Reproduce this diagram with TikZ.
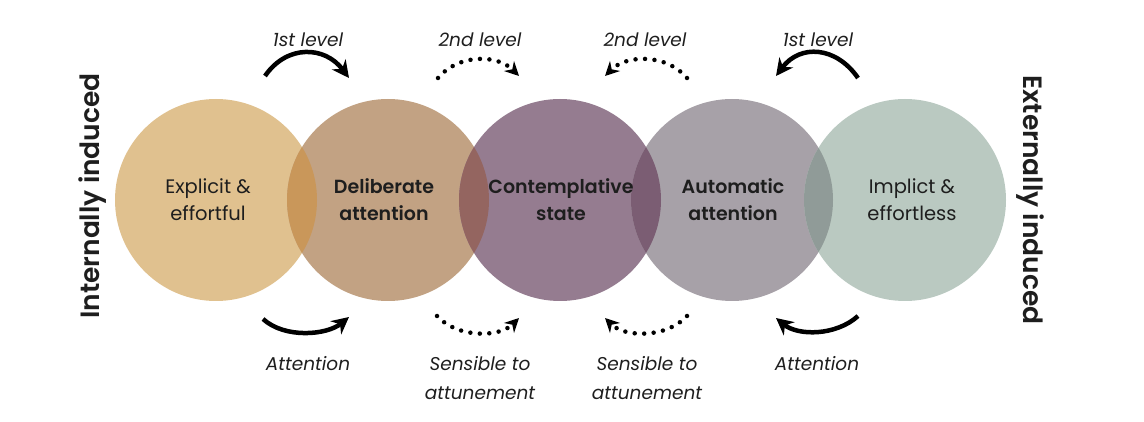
\documentclass[tikz,border=0pt]{standalone}
\usepackage{fontspec}
\setmainfont{Poppins}[BoldFont={Poppins SemiBold}]
\usetikzlibrary{arrows.meta}
\definecolor{ink}{HTML}{1E1E1E}
\definecolor{tanA}{HTML}{E0C18F}
\definecolor{tanB}{HTML}{C2A283}
\definecolor{plumC}{HTML}{957C90}
\definecolor{greyD}{HTML}{A7A1A8}
\definecolor{sageE}{HTML}{BAC9C1}
\definecolor{lensAB}{HTML}{C9975A}
\definecolor{lensBC}{HTML}{946560}
\definecolor{lensCD}{HTML}{7B5D73}
\definecolor{lensDE}{HTML}{909B98}
\begin{document}
\begin{tikzpicture}[x=1pt,y=-1pt,
  blob/.style={circle,minimum size=202pt,inner sep=0pt},
  ctext/.style={align=center,text=ink,font=\fontsize{19.5}{27}\selectfont},
  ctextb/.style={ctext,font=\bfseries\fontsize{19}{27}\selectfont},
  side/.style={text=ink,font=\bfseries\fontsize{26.5}{30}\selectfont},
  lvl/.style={align=center,text=ink,font=\itshape\fontsize{18.5}{29}\selectfont},
  solidarr/.style={line width=4.5pt,-{Stealth[length=17pt,width=17pt]}},
  dotarr/.style={line width=4.5pt,line cap=round,dash pattern=on 0pt off 9.5pt,-{Stealth[length=14pt,width=14pt]}}]
\useasboundingbox (0,0) rectangle (1144,422);
\node[blob,fill=tanA] (explicit) at (216,200) {};
\node[blob,fill=tanB] (deliberate) at (388,200) {};
\node[blob,fill=plumC] (contemp) at (560,200) {};
\node[blob,fill=greyD] (automatic) at (732,200) {};
\node[blob,fill=sageE] (implicit) at (905,200) {};
\begin{scope}
\clip (explicit.center) circle (101pt);
\fill[lensAB] (deliberate.center) circle (101pt);
\end{scope}
\begin{scope}
\clip (deliberate.center) circle (101pt);
\fill[lensBC] (contemp.center) circle (101pt);
\end{scope}
\begin{scope}
\clip (contemp.center) circle (101pt);
\fill[lensCD] (automatic.center) circle (101pt);
\end{scope}
\begin{scope}
\clip (automatic.center) circle (101pt);
\fill[lensDE] (implicit.center) circle (101pt);
\end{scope}
\node[ctext] (explicittxt) at (208,200) {Explicit \&\\effortful};
\node[ctextb] (deliberatetxt) at (384,200) {Deliberate\\attention};
\node[ctextb] (contemptxt) at (561,200) {Contemplative\\state};
\node[ctextb] (automatictxt) at (733,200) {Automatic\\attention};
\node[ctext] (implicittxt) at (912,200) {Implict \&\\effortless};
\node[side,rotate=90] (internal) at (93,196) {Internally induced};
\node[side,rotate=-90] (external) at (1030,200) {Externally induced};
\node[lvl] (lvlA) at (308,40) {1st level};
\node[lvl] (lvlB) at (480,40) {2nd level};
\node[lvl] (lvlC) at (645,40) {2nd level};
\node[lvl] (lvlD) at (818,40) {1st level};
\node[lvl] (attA) at (308,364) {Attention};
\node[lvl] (sensB) at (480,378) {Sensible to\\attunement};
\node[lvl] (sensC) at (647,378) {Sensible to\\attunement};
\node[lvl] (attD) at (817,364) {Attention};
\coordinate (t1a) at (265,76);
\coordinate (t1b) at (349,78);
\coordinate (t2a) at (438,78);
\coordinate (t2b) at (519,76);
\coordinate (t3a) at (687,78);
\coordinate (t3b) at (605,76);
\coordinate (t4a) at (858,78);
\coordinate (t4b) at (776,76);
\coordinate (b1a) at (263,319);
\coordinate (b1b) at (349,317);
\coordinate (b2a) at (437,316);
\coordinate (b2b) at (519,318);
\coordinate (b3a) at (687,316);
\coordinate (b3b) at (605,318);
\coordinate (b4a) at (858,316);
\coordinate (b4b) at (776,318);
\draw[solidarr] (t1a) .. controls +(22,-32) and +(-24,-32) .. (t1b);
\draw[dotarr] (t2a) .. controls +(20,-24) and +(-22,-22) .. (t2b);
\draw[dotarr] (t3a) .. controls +(-20,-24) and +(22,-22) .. (t3b);
\draw[solidarr] (t4a) .. controls +(-22,-32) and +(24,-32) .. (t4b);
\draw[solidarr] (b1a) .. controls +(22,20) and +(-22,18) .. (b1b);
\draw[dotarr] (b2a) .. controls +(20,22) and +(-20,20) .. (b2b);
\draw[dotarr] (b3a) .. controls +(-20,22) and +(20,20) .. (b3b);
\draw[solidarr] (b4a) .. controls +(-22,20) and +(22,18) .. (b4b);
\end{tikzpicture}
\end{document}
